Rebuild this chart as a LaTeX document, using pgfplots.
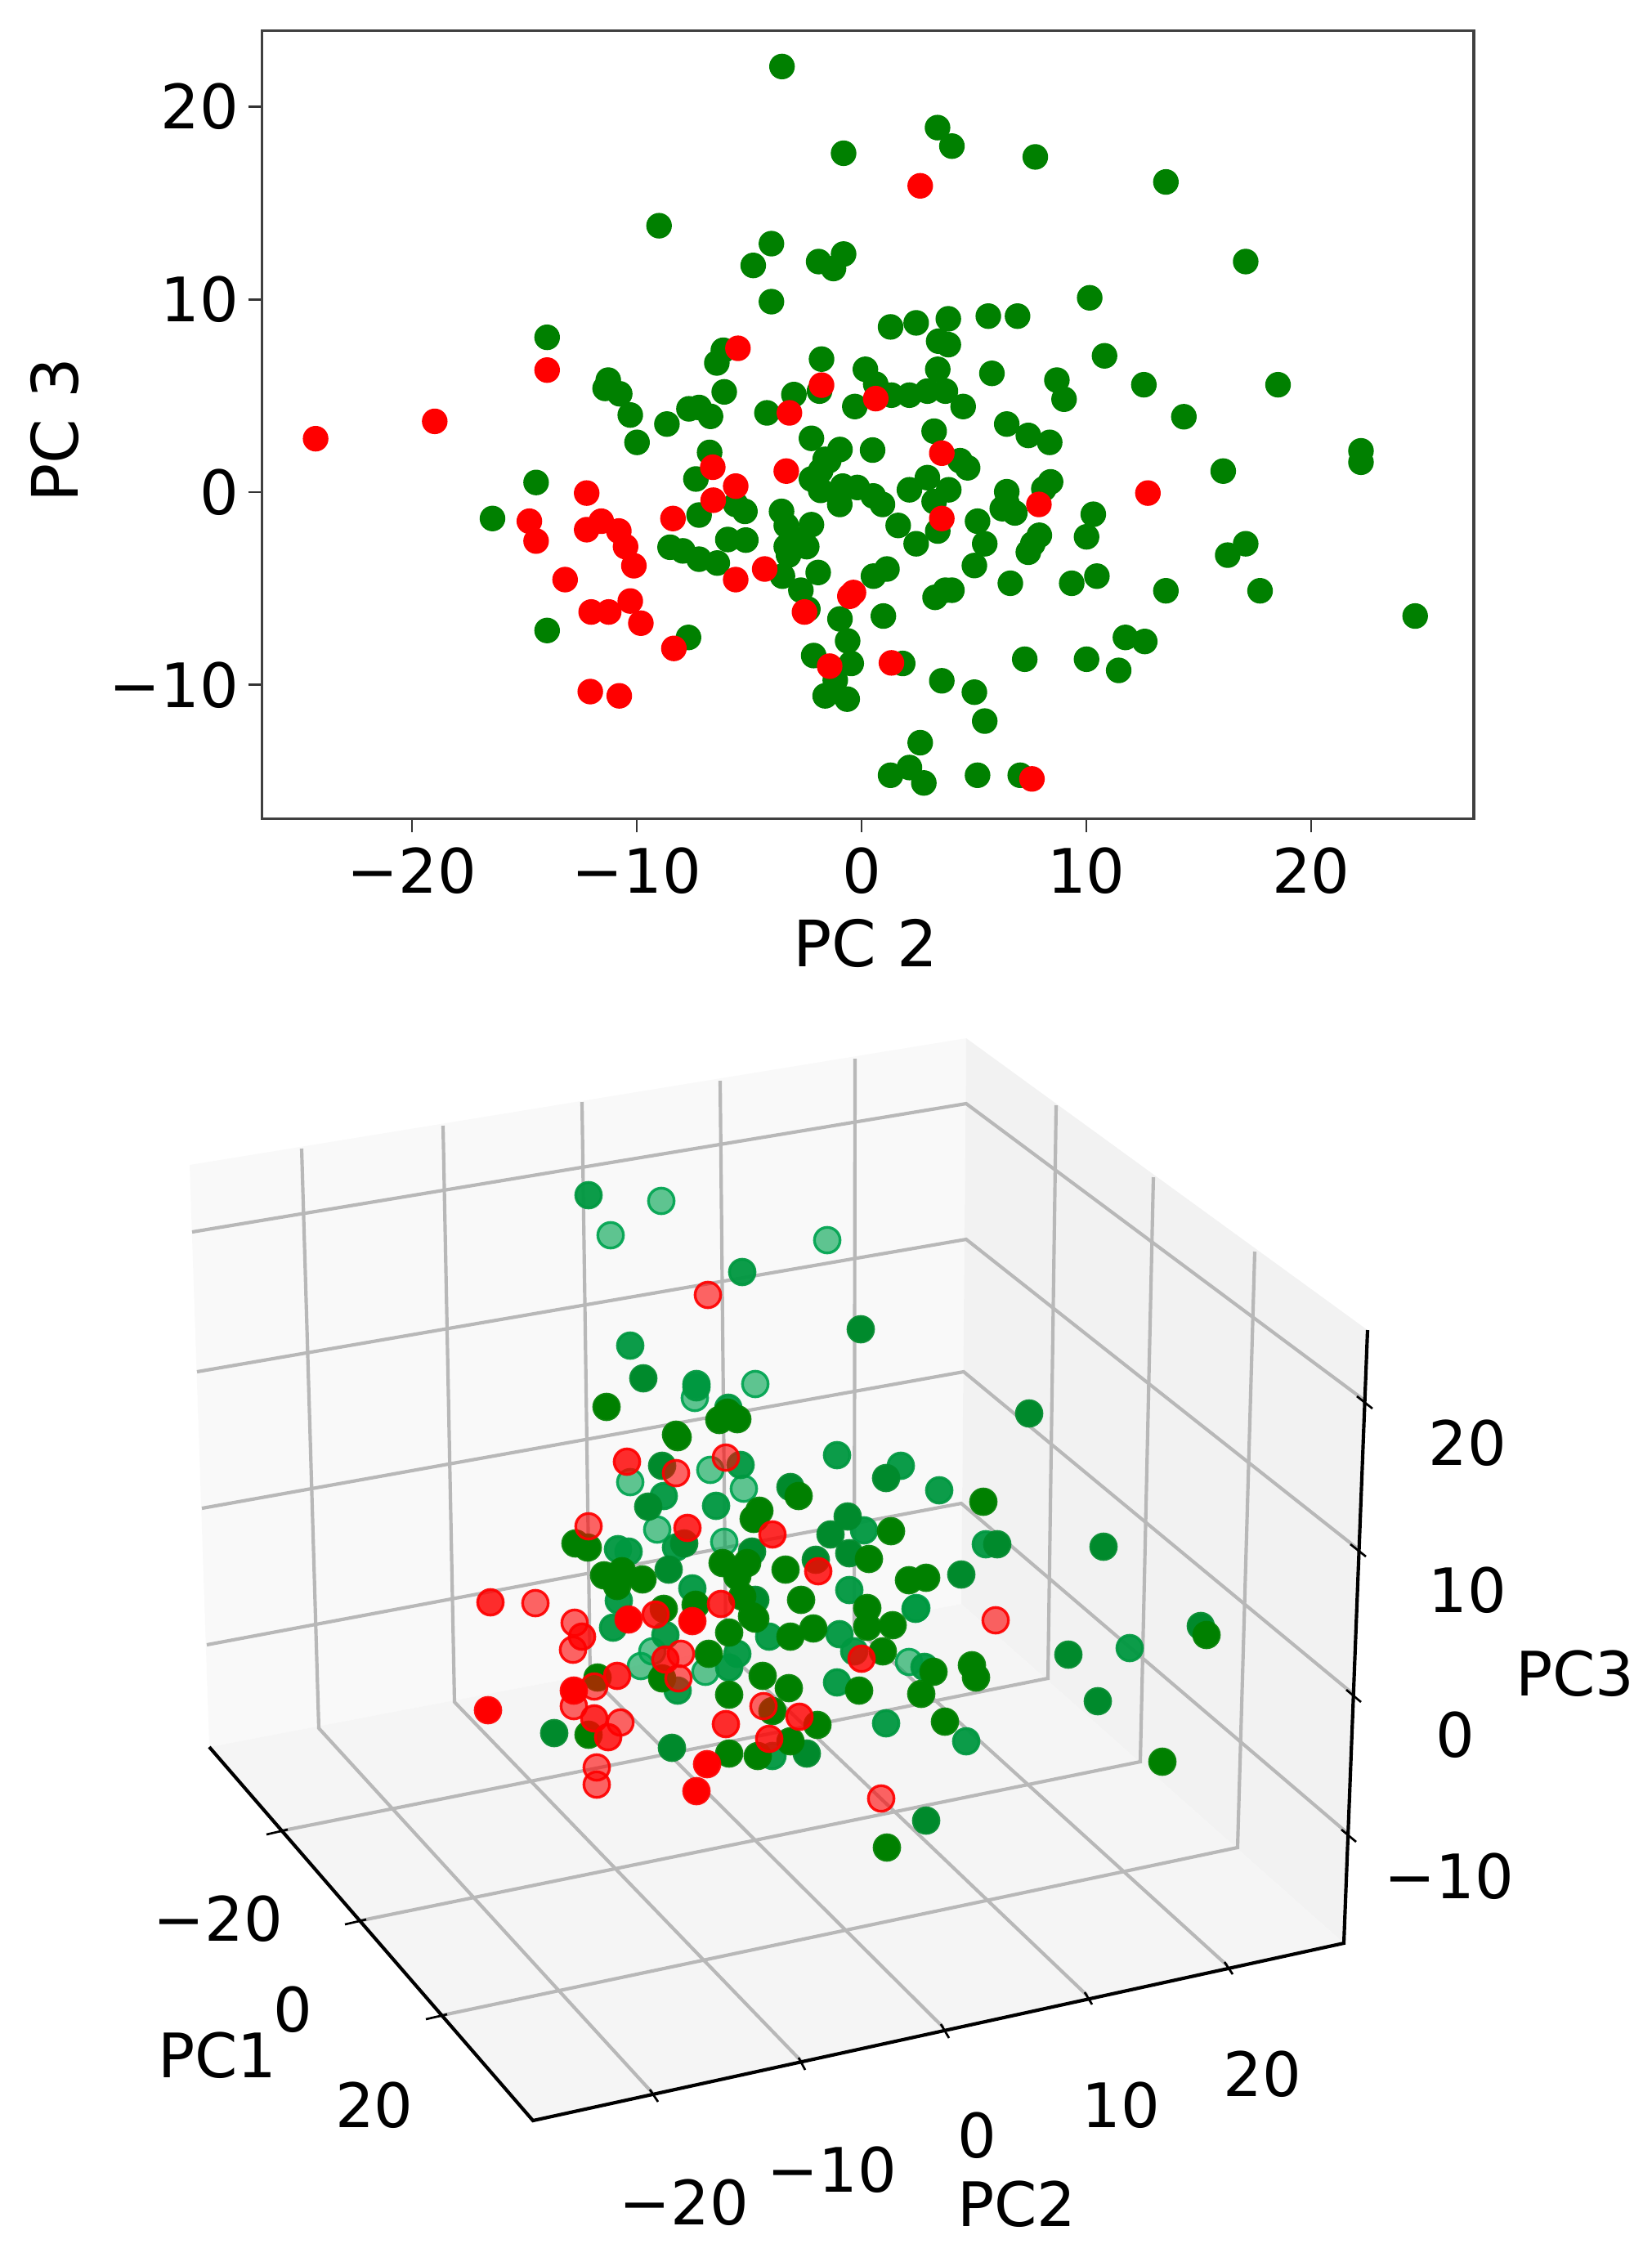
\documentclass[border=0pt]{standalone}
\usepackage{fontspec}
\setmainfont{DejaVu Sans}
\usepackage{pgfplots}
\pgfplotsset{compat=1.18}
\definecolor{paneL}{RGB}{249,249,249}
\definecolor{paneR}{RGB}{242,242,242}
\definecolor{paneF}{RGB}{245,245,245}
\definecolor{gridc}{RGB}{184,184,184}
\definecolor{mgreen}{RGB}{0,128,0}
\definecolor{g2}{RGB}{0,138,44}
\definecolor{g3}{RGB}{0,152,64}
\definecolor{g4}{RGB}{0,164,80}
\definecolor{mred}{RGB}{255,0,0}
\newcommand{\lbl}{\fontsize{22.5}{27}\selectfont}
\newcommand{\axl}{\fontsize{23.5}{28}\selectfont}
\pgfplotsset{
  gl/.style={gridc, line width=1.25pt},
  ax/.style={black, line width=1.25pt},
  tk/.style={black, line width=0.8pt},
  dot/.style 2 args={only marks, mark=*, mark size=4.7pt,
    mark options={draw=#1, fill=#1, line width=1pt, fill opacity=#2, draw opacity=0.92}},
}
\begin{document}
\begin{tikzpicture}
\useasboundingbox (0pt,0pt) rectangle (606.3pt,830.1pt);

% top panel, PC 2 against PC 3
\begin{axis}[
  at={(96.12pt,529.68pt)}, anchor=south west,
  scale only axis, width=444.78pt, height=289.23pt,
  xmin=-26.68, xmax=27.24, ymin=-16.94, ymax=23.95,
  xtick={-20,-10,0,10,20}, xticklabels={−20,−10,0,10,20},
  ytick={-10,0,10,20}, yticklabels={−10,0,10,20},
  tick align=outside, tick pos=left, major tick length=5pt,
  every tick/.style={black!80, line width=0.8pt},
  axis line style={black!75, line width=1pt},
  tick label style={font=\lbl},
  xticklabel style={yshift=-2pt},
  yticklabel style={xshift=0pt},
  xlabel={PC 2}, ylabel={PC 3},
  label style={font=\axl},
  xlabel style={at={(axis description cs:0.498,-0.158)}, anchor=center},
  ylabel style={at={(axis description cs:-0.171,0.493)}, anchor=center},
]
\addplot[only marks, mark=*, mark size=4.4pt, mark options={draw=mgreen, fill=mgreen, line width=0.6pt}] coordinates {
(-3.54,22.08) (3.38,18.91) (-0.80,17.58) (4.02,17.95) (7.73,17.39) (13.54,16.09) (-9.01,13.82) (-4.01,12.89)
(-4.82,11.76) (-1.91,11.96) (-1.25,11.60) (-0.80,12.35) (17.09,11.96) (-4.01,9.88) (10.15,10.08) (5.64,9.13)
(6.94,9.13) (3.86,8.99) (2.43,8.78) (1.29,8.57) (3.43,7.83) (3.86,7.65) (10.81,7.07) (-13.99,8.03)
(-6.15,7.36) (-6.44,6.70) (-1.78,6.90) (-1.87,5.24) (-3.01,5.06) (0.17,6.37) (3.39,6.37) (5.80,6.16)
(8.69,5.81) (9.01,4.82) (12.56,5.57) (18.53,5.57) (14.34,3.91) (0.63,5.60) (1.33,5.03) (2.13,5.03)
(2.93,5.24) (3.73,5.24) (-0.30,4.44) (4.52,4.44) (6.46,3.53) (7.42,2.94) (8.37,2.58) (3.23,3.16)
(0.49,2.18) (4.38,1.63) (4.72,1.26) (-0.96,2.21) (-1.46,1.63) (22.22,2.14) (22.22,1.55) (16.09,1.09)
(8.41,0.53) (8.11,0.17) (6.46,0.02) (6.46,-0.56) (6.26,-0.86) (6.82,-1.08) (10.31,-1.15) (10.01,-2.32)
(5.16,-1.51) (5.48,-2.68) (5.02,-3.81) (2.13,0.12) (2.93,0.75) (3.88,0.12) (3.23,-0.49) (3.39,-2.02)
(1.63,-1.73) (2.43,-2.68) (7.91,-2.24) (7.62,-2.68) (7.42,-3.12) (17.09,-2.68) (16.29,-3.27) (1.13,-3.99)
(0.53,-4.36) (3.73,-5.09) (3.27,-5.46) (4.02,-5.09) (6.62,-4.73) (9.35,-4.73) (10.47,-4.36) (13.54,-5.12)
(17.73,-5.12) (24.63,-6.43) (0.97,-6.43) (-0.96,-6.58) (-0.62,-7.72) (-0.46,-8.89) (1.83,-8.89) (7.26,-8.67)
(10.01,-8.67) (11.74,-7.54) (12.60,-7.75) (11.44,-9.25) (3.57,-9.79) (5.02,-10.38) (5.48,-11.88) (2.61,-13.00)
(1.29,-14.69) (2.13,-14.29) (2.77,-15.09) (5.16,-14.69) (7.06,-14.69) (-10.29,4.00) (-8.66,3.53) (-9.99,2.58)
(-7.68,4.32) (-7.23,4.39) (-6.72,3.93) (-11.27,5.81) (-11.41,5.38) (-10.76,5.10) (-6.11,5.20) (-4.21,4.11)
(-2.23,2.79) (-1.62,1.70) (-1.82,1.11) (-2.23,0.68) (-1.82,0.09) (-0.84,0.31) (-0.19,0.24) (-0.97,-0.64)
(0.52,-0.20) (0.93,-0.64) (-6.76,2.06) (-7.37,0.68) (-5.60,-0.64) (-5.19,-1.00) (-7.23,-1.19) (-14.48,0.50)
(-16.42,-1.37) (-7.70,-7.54) (-13.99,-7.18) (-8.52,-2.86) (-7.95,-3.05) (-7.23,-3.48) (-6.42,-3.68) (-5.95,-2.46)
(-5.15,-2.49) (-3.52,-4.36) (-2.70,-5.09) (-2.39,-6.07) (-1.93,-4.17) (-3.56,-1.00) (-3.35,-1.73) (-2.23,-1.69)
(-3.05,-2.39) (-3.35,-2.83) (-2.44,-2.83) (-3.25,-3.27) (-2.13,-8.48) (-1.17,-9.76) (-1.62,-10.57) (-0.64,-10.74)
};
\addplot[only marks, mark=*, mark size=4.4pt, mark options={draw=mred, fill=mred, line width=0.6pt}] coordinates {
(2.61,15.89) (-13.99,6.33) (-5.50,7.46) (-1.78,5.55) (0.63,4.85) (-3.21,4.11) (3.57,2.02) (12.74,-0.05)
(7.89,-0.64) (3.57,-1.37) (-0.36,-5.21) (-0.52,-5.40) (-1.42,-9.03) (1.33,-8.86) (7.58,-14.88) (-24.29,2.77)
(-18.99,3.67) (-6.62,1.29) (-5.60,0.31) (-6.60,-0.42) (-3.35,1.09) (-8.39,-1.37) (-12.23,-0.05) (-14.78,-1.51)
(-14.48,-2.54) (-12.23,-1.95) (-11.58,-1.51) (-10.80,-2.02) (-10.50,-2.83) (-10.13,-3.82) (-13.19,-4.54) (-10.29,-5.65)
(-12.03,-6.22) (-11.25,-6.22) (-9.82,-6.80) (-8.35,-8.11) (-12.07,-10.35) (-10.78,-10.57) (-5.60,-4.54) (-4.31,-3.99)
(-2.54,-6.22)
};
\end{axis}

% bottom panel: the perspective 3D view, read off as image positions (y runs down)
\begin{axis}[
  at={(0pt,0pt)}, anchor=south west,
  scale only axis, width=606.3pt, height=830.1pt,
  xmin=0, xmax=2021, ymin=0, ymax=2767, y dir=reverse,
  axis lines=none, clip=false,
]
% panes
\addplot[fill=paneL, draw=none] coordinates {(232,1425) (1182,1270) (1176,1962) (256,2137)} --cycle;
\addplot[fill=paneR, draw=none] coordinates {(1182,1270) (1673,1627) (1644,2377) (1176,1962)} --cycle;
\addplot[fill=paneF, draw=none] coordinates {(256,2137) (1176,1962) (1644,2377) (652,2594)} --cycle;
% grid on the left pane
\addplot[gl] coordinates {(369,1405) (390,2114) (798,2560)};
\addplot[gl] coordinates {(542,1377) (556,2082) (980,2521)};
\addplot[gl] coordinates {(712,1348) (722,2050) (1154,2480)};
\addplot[gl] coordinates {(881,1322) (888,2019) (1330,2441)};
\addplot[gl] coordinates {(1046,1295) (1045,1990) (1501,2404)};
% grid on the right pane and floor
\addplot[gl] coordinates {(1292,1352) (1282,2053) (342,2240)};
\addplot[gl] coordinates {(1411,1440) (1395,2155) (438,2350)};
\addplot[gl] coordinates {(1535,1531) (1514,2260) (537,2466)};
% z grid round both panes
\addplot[gl] coordinates {(235,1507) (1182,1350) (1668,1712)};
\addplot[gl] coordinates {(241,1678) (1182,1516) (1659,1893)};
\addplot[gl] coordinates {(247,1845) (1179,1678) (1654,2071)};
\addplot[gl] coordinates {(253,2012) (1176,1839) (1648,2242)};
% axis edges
\addplot[ax] coordinates {(256,2137) (652,2594) (1644,2377) (1673,1627)};
% ticks
\addplot[tk] coordinates {(326,2244) (352,2238)};
\addplot[tk] coordinates {(422,2354) (448,2348)};
\addplot[tk] coordinates {(521,2470) (547,2464)};
\addplot[tk] coordinates {(795,2556) (805,2571)};
\addplot[tk] coordinates {(977,2517) (985,2532)};
\addplot[tk] coordinates {(1151,2476) (1161,2493)};
\addplot[tk] coordinates {(1327,2437) (1336,2452)};
\addplot[tk] coordinates {(1498,2400) (1508,2415)};
\addplot[tk] coordinates {(1660,1708) (1679,1723)};
\addplot[tk] coordinates {(1652,1889) (1671,1904)};
\addplot[tk] coordinates {(1647,2067) (1665,2082)};
\addplot[tk] coordinates {(1641,2238) (1659,2253)};
% points, faintest first
\addplot[dot={g4}{0.62}] coordinates {
(809,1469) (747,1511) (1012,1517) (850,1710) (869,1798) (910,1821) (771,1813) (804,1871) (886,1886) (1121,1967)
(798,2020) (784,2038) (863,2045) (1112,2033) (924,1693)
};
\addplot[dot={g3}{0.95}] coordinates {
(720,1462) (908,1556) (771,1646) (852,1693) (852,1697) (891,1722) (906,1792) (1024,1780) (1102,1793) (1149,1823)
(812,1830) (876,1842) (756,1895) (769,1898) (827,1893) (1057,1872) (1039,1945) (847,1943) (757,1958) (750,1991)
(814,2000) (829,2068) (902,2023) (892,2040) (941,2002) (1027,1999) (1045,2020) (1024,2058) (945,2148) (1084,2108)
(1206,1889) (1382,2016) (1131,2039) (1182,2130) (1120,1968)
};
\addplot[dot={g2}{1}] coordinates {
(787,1686) (1053,1626) (810,1793) (967,1819) (1084,1808) (793,1843) (1037,1855) (837,1888) (1016,1877) (920,1898)
(818,1920) (998,1908) (1039,1900) (924,1957) (987,2145) (822,2138) (678,2120) (1133,2227) (1259,1729) (1220,1889)
(1350,1892) (1176,1926) (1469,1989) (1307,2024) (1343,2081)
};
\addplot[dot={mgreen}{1}] coordinates {
(742,1721) (880,1737) (902,1736) (890,1728) (829,1758) (827,1755) (977,1830) (929,1848) (922,1858) (704,1888)
(719,1893) (1090,1873) (924,1857) (884,1912) (914,1912) (902,1928) (739,1927) (761,1922) (786,1932) (755,1940)
(961,1920) (1063,1907) (1133,1930) (1112,1933) (980,1957) (908,1953) (920,1977) (812,1968) (851,1963) (810,2053)
(867,2023) (892,1997) (924,1980) (967,2002) (995,1992) (1061,1967) (1061,1990) (1092,1988) (1080,2020) (1051,2068)
(1127,2072) (933,2050) (892,2073) (965,2065) (945,2093) (1000,2110) (967,2130) (892,2145) (927,2148) (720,2122)
(731,2052) (1085,2260) (1203,1837) (1142,2045) (1189,2037) (1194,2052) (1476,2000) (1156,2106) (1422,2155)
};
\addplot[dot={mred}{0.6}] coordinates {
(866,1584) (827,1802) (888,1783) (720,1867) (655,1961) (703,1985) (701,2018) (833,2023) (830,2053) (934,2087)
(759,2107) (702,2087) (727,2063) (730,2162) (730,2183) (1078,2200) (1218,1982)
};
\addplot[dot={mred}{0.82}] coordinates {
(767,1788) (841,1869) (945,1877) (1001,1922) (882,1962) (802,1975) (600,1960) (712,2002) (814,2030) (1054,2029)
(978,2100) (888,2109) (941,2127) (727,2102) (744,2125) (755,2050)
};
\addplot[dot={mred}{1}] coordinates {
(769,1981) (847,1983) (865,2158) (852,2191) (597,2092) (702,2068)
};
% tick and axis labels
\node[font=\lbl] at (axis cs:267,2347) {−20};
\node[font=\lbl] at (axis cs:358,2458) {0};
\node[font=\lbl] at (axis cs:458,2575) {20};
\node[font=\lbl] at (axis cs:266,2514) {PC1};
\node[font=\lbl] at (axis cs:837,2694) {−20};
\node[font=\lbl] at (axis cs:1018,2654) {−10};
\node[font=\lbl] at (axis cs:1195,2612) {0};
\node[font=\lbl] at (axis cs:1371,2575) {10};
\node[font=\lbl] at (axis cs:1544,2537) {20};
\node[font=\lbl] at (axis cs:1244,2696) {PC2};
\node[font=\lbl] at (axis cs:1795,1765) {20};
\node[font=\lbl] at (axis cs:1795,1945) {10};
\node[font=\lbl] at (axis cs:1780,2122) {0};
\node[font=\lbl] at (axis cs:1773,2295) {−10};
\node[font=\lbl] at (axis cs:1927,2047) {PC3};
\end{axis}
\end{tikzpicture}
\end{document}
